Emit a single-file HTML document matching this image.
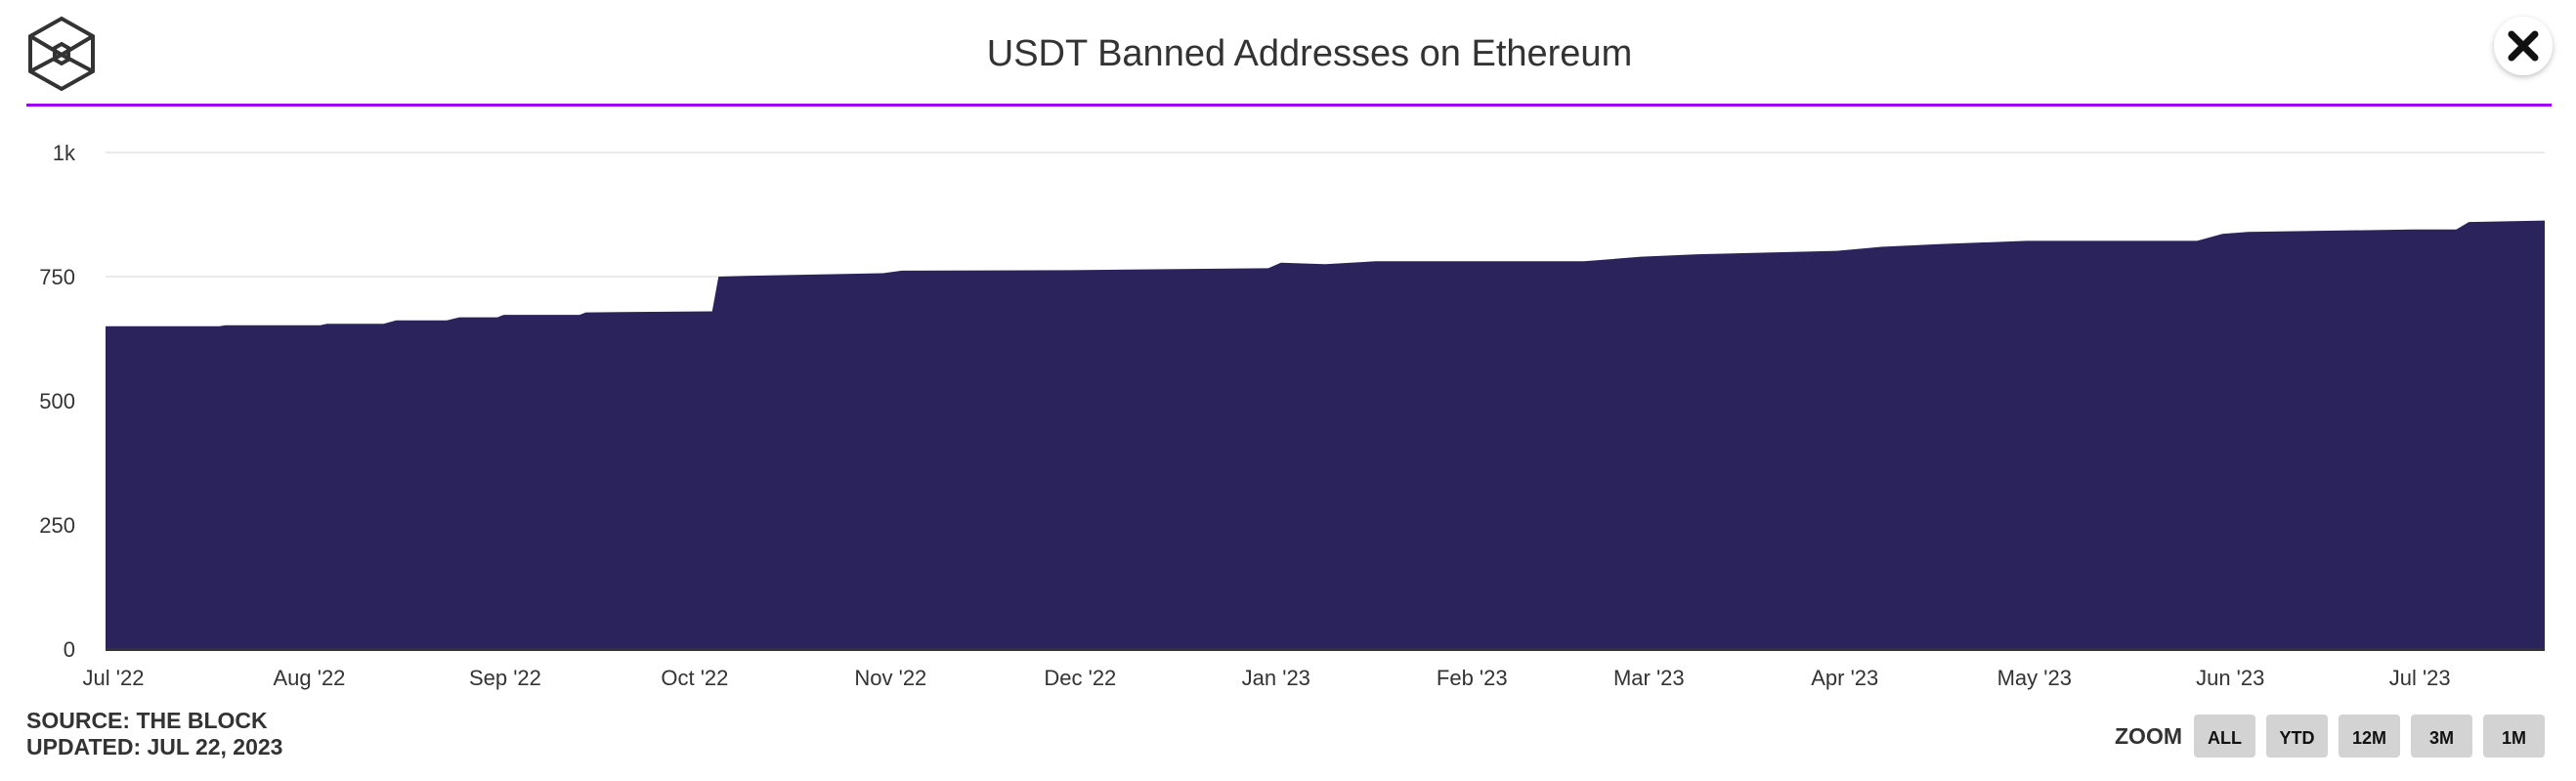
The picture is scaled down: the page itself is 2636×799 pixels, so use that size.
<!DOCTYPE html>
<html><head><meta charset="utf-8">
<style>
body{margin:0;width:2636px;height:794px;background:#fff;overflow:hidden;font-family:"Liberation Sans",sans-serif;}
svg text{font-family:"Liberation Sans",sans-serif;}
</style></head>
<body>
<svg width="2636" height="794" xmlns="http://www.w3.org/2000/svg">
  <defs><filter id="sh" x="-50%" y="-50%" width="200%" height="200%"><feDropShadow dx="0" dy="2" stdDeviation="3" flood-opacity="0.25"/></filter></defs>
  <g fill="none" stroke="#333" stroke-width="4">
    <polygon points="63,19 95,37 95,73 63,91 31,73 31,37"/>
    <polyline points="31,37 63,56 95,37"/>
    <polyline points="31,73 63,56 95,73"/>
    <polygon points="63,45 70,49 70,61 63,65 56,61 56,49"/>
  </g>
  <text x="1340" y="67" text-anchor="middle" font-size="38" fill="#333">USDT Banned Addresses on Ethereum</text>
  <g>
    <circle cx="2582" cy="47" r="30" fill="#fff" filter="url(#sh)"/>
    <path d="M2570,35 L2594,59 M2594,35 L2570,59" stroke="#111" stroke-width="7" stroke-linecap="round"/>
  </g>
  <rect x="27" y="106" width="2584" height="3" fill="#a100f2"/>
  <g id="grid"></g>
  <g id="area"></g>
  <rect x="108" y="663" width="2496" height="3" fill="#333"/>
  <g id="yticks"></g>
  <g id="xticks"></g>
  <text x="27" y="745" font-size="23" font-weight="bold" fill="#333">SOURCE: THE BLOCK</text>
  <text x="27" y="772" font-size="23" font-weight="bold" fill="#333">UPDATED: JUL 22, 2023</text>
  <text x="2233" y="761" text-anchor="end" font-size="23" font-weight="bold" fill="#333">ZOOM</text>
  <g id="zoombtns"></g>
</svg>
<script>
const tickValues=[0,250,500,750,1000];
const tickLabels=["0","250","500","750","1k"];
const monthLabels=["Jul '22","Aug '22","Sep '22","Oct '22","Nov '22","Dec '22","Jan '23","Feb '23","Mar '23","Apr '23","May '23","Jun '23","Jul '23"];
const monthDates=["2022-07-01","2022-08-01","2022-09-01","2022-10-01","2022-11-01","2022-12-01","2023-01-01","2023-02-01","2023-03-01","2023-04-01","2023-05-01","2023-06-01","2023-07-01"];
const dates=["2022-07-01","2022-07-19","2022-07-20","2022-08-04","2022-08-05","2022-08-14","2022-08-16","2022-08-24","2022-08-26","2022-09-01","2022-09-02","2022-09-14","2022-09-15","2022-10-05","2022-10-06","2022-10-12","2022-11-01","2022-11-04","2022-12-01","2023-01-01","2023-01-03","2023-01-10","2023-01-18","2023-02-20","2023-03-01","2023-03-10","2023-04-01","2023-04-08","2023-04-18","2023-05-01","2023-05-28","2023-06-01","2023-06-05","2023-07-01","2023-07-08","2023-07-10","2023-07-22"];
const values=[650,650,652,652,655,655,662,662,668,668,673,673,678,680,750,752,757,762,763,767,778,775,781,781,790,795,802,810,816,822,822,836,840,845,845,860,863];
const zoomLabels=["ALL","YTD","12M","3M","1M"];

const NS="http://www.w3.org/2000/svg";
const X0=108,X1=2604,Y0=664,Y1=156;
const t0=Date.parse("2022-07-01"),t1=Date.parse("2023-07-22");
function xs(d){return X0+(Date.parse(d)-t0)/(t1-t0)*(X1-X0);}
function ys(v){return Y0-(v/1000)*(Y0-Y1);}
function mk(tag,attrs,parent){const e=document.createElementNS(NS,tag);for(const k in attrs)e.setAttribute(k,attrs[k]);parent.appendChild(e);return e;}

const grid=document.getElementById('grid'),yt=document.getElementById('yticks');
tickValues.forEach((v,i)=>{
  if(v>0){const l=mk('line',{x1:X0,x2:X1,y1:ys(v),y2:ys(v),stroke:'#ebebeb','stroke-width':2},grid);
  
  }
  const t=mk('text',{x:77,y:ys(v)+8,'text-anchor':'end','font-size':22,fill:'#333'},yt);
  t.textContent=tickLabels[i];
  
  
});
let d="M"+X0+","+Y0;
values.forEach((v,i)=>{ d+=" L"+xs(dates[i])+","+ys(v); });
d+=" L"+X1+","+ys(values[values.length-1])+" L"+X1+","+Y0+" Z";
const p=mk('path',{d:d,fill:'#2b235c'},document.getElementById('area'));


const xt=document.getElementById('xticks');
monthLabels.forEach((m,i)=>{
  const t=mk('text',{x:xs(monthDates[i])+8,y:701,'text-anchor':'middle','font-size':22,fill:'#333'},xt);
  t.textContent=m;
  
  
});
const zb=document.getElementById('zoombtns');
zoomLabels.forEach((z,i)=>{
  const x=2245+i*74;
  const g=mk('g',{},zb);
  
  
  mk('rect',{x:x,y:731,width:63,height:44,rx:4,fill:'#d3d3d3'},g);
  const t=mk('text',{x:x+31.5,y:761,'text-anchor':'middle','font-size':18,'font-weight':'bold',fill:'#111'},g);
  t.textContent=z;
});
</script>
</body></html>
